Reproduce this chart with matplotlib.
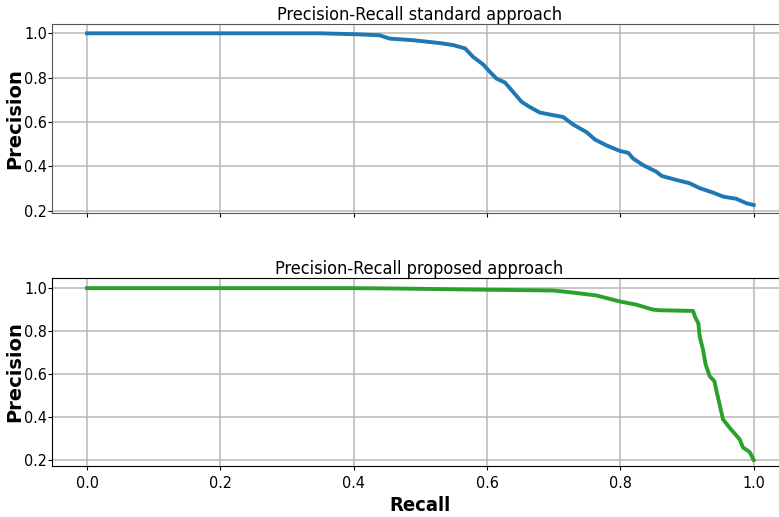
import matplotlib
matplotlib.use("Agg")
import matplotlib.pyplot as plt

plt.rcParams['font.family'] = ['DejaVu Sans']
plt.rcParams['font.stretch'] = 'condensed'

# precision-recall curve, standard approach
recall_std = [0.0, 0.20, 0.35, 0.40, 0.439, 0.454, 0.489, 0.529, 0.549, 0.567, 0.579,
              0.594, 0.604, 0.614, 0.627, 0.639, 0.652, 0.664, 0.679, 0.694, 0.714,
              0.729, 0.749, 0.762, 0.779, 0.799, 0.812, 0.819, 0.834, 0.854, 0.862,
              0.884, 0.904, 0.919, 0.939, 0.954, 0.974, 0.989, 1.0]
precision_std = [1.0, 1.0, 1.0, 0.996, 0.991, 0.976, 0.969, 0.956, 0.947, 0.932, 0.894,
                 0.860, 0.827, 0.796, 0.778, 0.736, 0.691, 0.668, 0.643, 0.634, 0.623,
                 0.589, 0.555, 0.521, 0.495, 0.470, 0.461, 0.436, 0.406, 0.376, 0.357,
                 0.339, 0.324, 0.302, 0.282, 0.264, 0.254, 0.234, 0.226]

# precision-recall curve, proposed approach
recall_prop = [0.0, 0.20, 0.40, 0.47, 0.589, 0.699, 0.724, 0.764, 0.799, 0.824, 0.849,
               0.859, 0.909, 0.912, 0.917, 0.919, 0.924, 0.928, 0.934, 0.941, 0.946,
               0.954, 0.964, 0.979, 0.984, 0.994, 1.0]
precision_prop = [1.0, 1.0, 1.0, 0.998, 0.993, 0.989, 0.981, 0.966, 0.938, 0.923, 0.900,
                  0.897, 0.894, 0.867, 0.836, 0.775, 0.713, 0.644, 0.590, 0.567, 0.497,
                  0.389, 0.350, 0.296, 0.258, 0.237, 0.2]

xticks = [0.0, 0.2, 0.4, 0.6, 0.8, 1.0]
yticks = [0.2, 0.4, 0.6, 0.8, 1.0]

fig = plt.figure(figsize=(7.79, 5.17), dpi=100)
ax1 = fig.add_axes([0.0668, 0.588, 0.9435, 0.3656])
ax2 = fig.add_axes([0.0668, 0.0986, 0.9435, 0.3636])

ax1.plot(recall_std, precision_std, color='#1f77b4', linewidth=2.8)
ax2.plot(recall_prop, precision_prop, color='#2ca02c', linewidth=2.8)

for ax, title, ylim in [(ax1, "Precision-Recall standard approach", (0.19, 1.042)),
                        (ax2, "Precision-Recall proposed approach", (0.172, 1.047))]:
    ax.set_xlim(-0.0525, 1.05)
    ax.set_ylim(*ylim)
    ax.set_xticks(xticks)
    ax.set_yticks(yticks)
    ax.grid(True, color='#b8b8b8', linewidth=1.1)
    ax.set_title(title, fontsize=13, pad=2)
    ax.set_ylabel("Precision", fontsize=14, fontweight='bold', fontstretch='normal', labelpad=0)
    ax.tick_params(labelsize=11.5, length=3, pad=0.5)

ax1.tick_params(labelbottom=False)
for s in ax1.spines.values():
    s.set_color('#555555')
ax2.tick_params(axis='x', pad=4)
ax2.set_xlabel("Recall", fontsize=14.5, fontweight='bold', labelpad=4)

fig.savefig("out.png", dpi=100)
